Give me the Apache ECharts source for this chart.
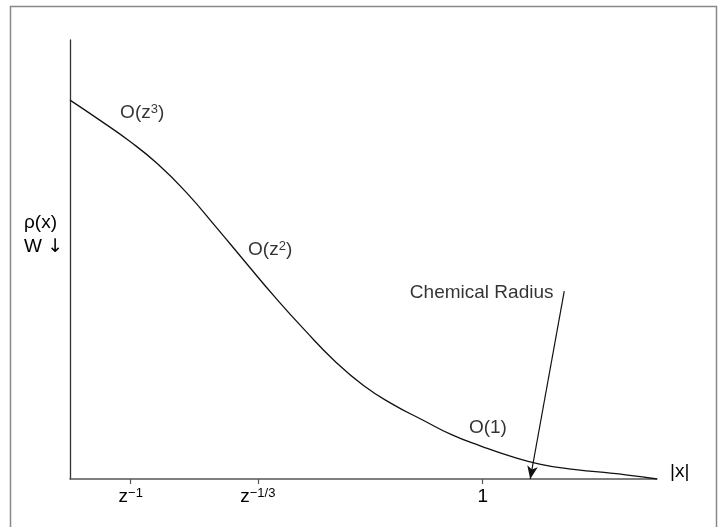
<!DOCTYPE html>
<html>
<head>
<meta charset="utf-8">
<script src="https://cdn.jsdelivr.net/npm/echarts@6/dist/echarts.min.js"></script>
<style>
  html, body { margin: 0; padding: 0; background: #fff; }
  #chart { width: 718px; height: 527px; }
</style>
</head>
<body>
<div id="chart"></div>
<script>
// density profile sketch, axes in arbitrary units (0..10)
var curveX = [0, 0.5, 1.0, 1.5, 2.0, 2.5, 3.0, 3.5, 4.0, 4.5, 5.0, 5.5, 6.0, 6.5, 7.0, 7.5, 8.0, 8.5, 9.0, 9.5, 10];
var curveY = [8.63, 8.18, 7.71, 7.17, 6.50, 5.72, 4.92, 4.13, 3.39, 2.70, 2.13, 1.70, 1.35, 1.01, 0.75, 0.52, 0.34, 0.23, 0.16, 0.09, 0];

var tickValues = [1.034, 3.20, 7.03];
var tickLabels = ['{z|z}{s|\u22121}', '{z|z}{s|\u22121/3}', '{z|1}'];

var notes = [
  { x: 1.23, y: 8.34, text: '{a|O(z}{s|3}{a|)}' },
  { x: 3.41, y: 5.22, text: '{a|O(z}{s|2}{a|)}' },
  { x: 7.12, y: 1.16, text: '{a|O(1)}' }
];
var radiusLabel = { x: 5.79, y: 4.24, text: 'Chemical Radius' };
var arrowFrom = [8.42, 4.28];
var arrowTo = [7.84, 0];

var font = 'Liberation Sans, Arial, Helvetica, sans-serif';
var ink = '#000';
var rich = {
  a: { fontSize: 19, fontFamily: font, color: ink, verticalAlign: 'bottom' },
  z: { fontSize: 19, fontFamily: font, color: ink, verticalAlign: 'bottom' },
  s: { fontSize: 13, fontFamily: font, color: ink, verticalAlign: 'top' }
};

var myChart = echarts.init(document.getElementById('chart'));

var option = {
  animation: false,
  grid: { left: 70, right: 61, top: 40, bottom: 48 },
  xAxis: {
    type: 'value',
    min: 0,
    max: 10,
    name: '|x|',
    nameLocation: 'end',
    nameGap: 13,
    nameTextStyle: { fontSize: 19, fontFamily: font, color: ink, verticalAlign: 'bottom', lineHeight: 14 },
    splitLine: { show: false },
    axisLine: { lineStyle: { color: '#555', width: 1.5 } },
    axisTick: { show: true, customValues: tickValues, length: 5, lineStyle: { color: '#555', width: 1.2 } },
    axisLabel: {
      customValues: tickValues,
      margin: 8,
      formatter: function (v) {
        var i = tickValues.indexOf(v);
        return i >= 0 ? tickLabels[i] : '';
      },
      rich: rich
    }
  },
  yAxis: {
    type: 'value',
    min: 0,
    max: 10,
    splitLine: { show: false },
    axisTick: { show: false },
    axisLabel: { show: false },
    axisLine: { show: true, lineStyle: { color: '#333', width: 1.3 } }
  },
  graphic: [
    {
      type: 'rect',
      left: 8, top: 4,
      shape: { width: 706, height: 600 },
      style: { fill: 'none', stroke: '#888', lineWidth: 1.5 },
      silent: true
    },
    {
      type: 'text',
      left: 24, top: 211,
      style: {
        text: '{a|\u03c1(x)}\n{a|W }{arr|\u2193}',
        lineHeight: 24,
        rich: {
          a: { fontSize: 19, fontFamily: font, color: ink, lineHeight: 24 },
          arr: { fontSize: 19, fontFamily: 'DejaVu Sans', color: ink, lineHeight: 24 }
        }
      }
    }
  ],
  series: [
    {
      type: 'line',
      data: curveX.map(function (x, i) { return [x, curveY[i]]; }),
      smooth: 0.5,
      symbol: 'none',
      lineStyle: { color: '#111', width: 1.3 },
      markLine: {
        silent: true,
        label: { show: false },
        lineStyle: { color: '#111', width: 1.2, type: 'solid' },
        symbol: ['none', 'arrow'],
        symbolSize: [8, 13],
        data: [[{ coord: arrowFrom }, { coord: arrowTo }]]
      }
    },
    {
      type: 'scatter',
      symbolSize: 0,
      data: notes.map(function (n) { return { value: [n.x, n.y], label: { formatter: n.text } }; }),
      label: { show: true, position: 'inside', rich: rich }
    },
    {
      type: 'scatter',
      symbolSize: 0,
      data: [{ value: [radiusLabel.x, radiusLabel.y] }],
      label: {
        show: true, position: 'right', distance: 0,
        formatter: radiusLabel.text,
        fontSize: 19, fontFamily: font, color: ink
      }
    }
  ]
};

myChart.setOption(option);
</script>
</body>
</html>
